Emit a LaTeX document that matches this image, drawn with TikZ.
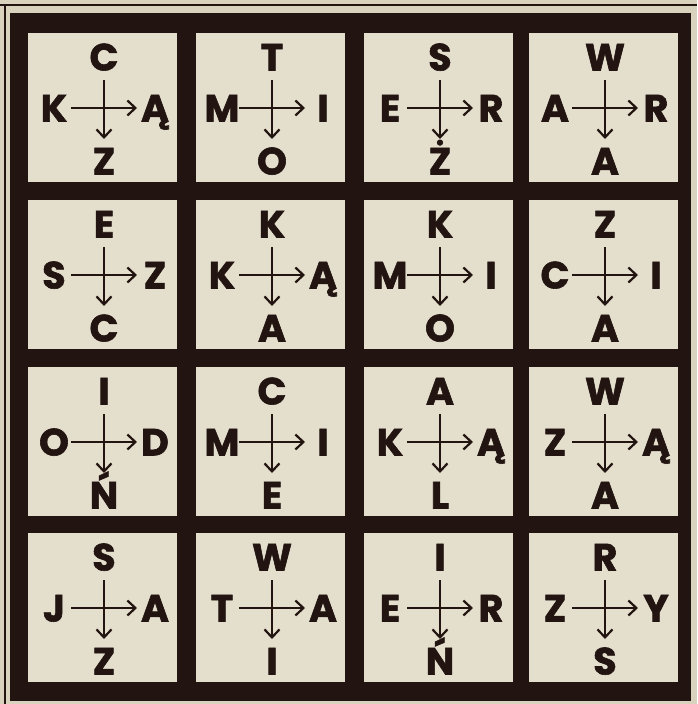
\documentclass[tikz,border=0pt]{standalone}
\usepackage{fontspec}
\setmainfont{Poppins}[BoldFeatures={FakeBold=1.6}]
\usetikzlibrary{arrows.meta}
\definecolor{paper}{HTML}{D9D2BC}
\definecolor{cellbg}{HTML}{E4DECC}
\definecolor{ink}{HTML}{221411}
\tikzset{
  letter/.style={anchor=base, inner sep=0pt, text=ink, font=\fontsize{38}{38}\selectfont\bfseries},
  arr/.style={draw=ink, line width=2pt, -{Straight Barb[length=8pt,width=15pt,line width=2.2pt]}},
  cellbox/.style={fill=cellbg, draw=none},
}
\begin{document}
\begin{tikzpicture}[x=1pt,y=-1pt]
\useasboundingbox (0,0) rectangle (697,704);
\fill[paper] (0,0) rectangle (697,704);
\draw[ink, line width=1.3pt] (0,5) -- (697,5);
\draw[ink, line width=1.3pt] (5,5) -- (5,704);
\fill[ink] (10,13) rectangle (691,701);
\foreach \c/\r/\T/\L/\R/\B [count=\i] in {
  0/0/C/K/Ą/Z, 1/0/T/M/I/O, 2/0/S/E/R/Ż, 3/0/W/A/R/A,
  0/1/E/S/Z/C, 1/1/K/K/Ą/A, 2/1/K/M/I/O, 3/1/Z/C/I/A,
  0/2/I/O/D/Ń, 1/2/C/M/I/E, 2/2/A/K/Ą/L, 3/2/W/Z/Ą/A,
  0/3/S/J/A/Z, 1/3/W/T/A/I, 2/3/I/E/R/Ń, 3/3/R/Z/Y/S}{
  \pgfmathsetmacro\xo{{28,196,364,529}[\c]}
  \pgfmathsetmacro\yo{{33,200,367,533}[\r]}
  \pgfmathsetmacro\cx{\xo+76}
  \pgfmathsetmacro\cy{\yo+75}
  \fill[cellbox] (\xo,\yo) rectangle ++(149,149);
  \node[letter] (t\i) at (\cx,\cy-37.5) {\T};
  \node[letter] (l\i) at (\cx-50,\cy+13.5) {\L};
  \node[letter] (r\i) at (\cx+51,\cy+13.5) {\R};
  \node[letter] (b\i) at (\cx,\cy+66.5) {\B};
  \coordinate (hw\i) at (\cx-33,\cy);
  \coordinate (he\i) at (\cx+33,\cy);
  \coordinate (vn\i) at (\cx,\cy-28);
  \coordinate (vs\i) at (\cx,\cy+31);
  \draw[arr] (hw\i) -- (he\i);
  \draw[arr] (vn\i) -- (vs\i);
}
\end{tikzpicture}
\end{document}
